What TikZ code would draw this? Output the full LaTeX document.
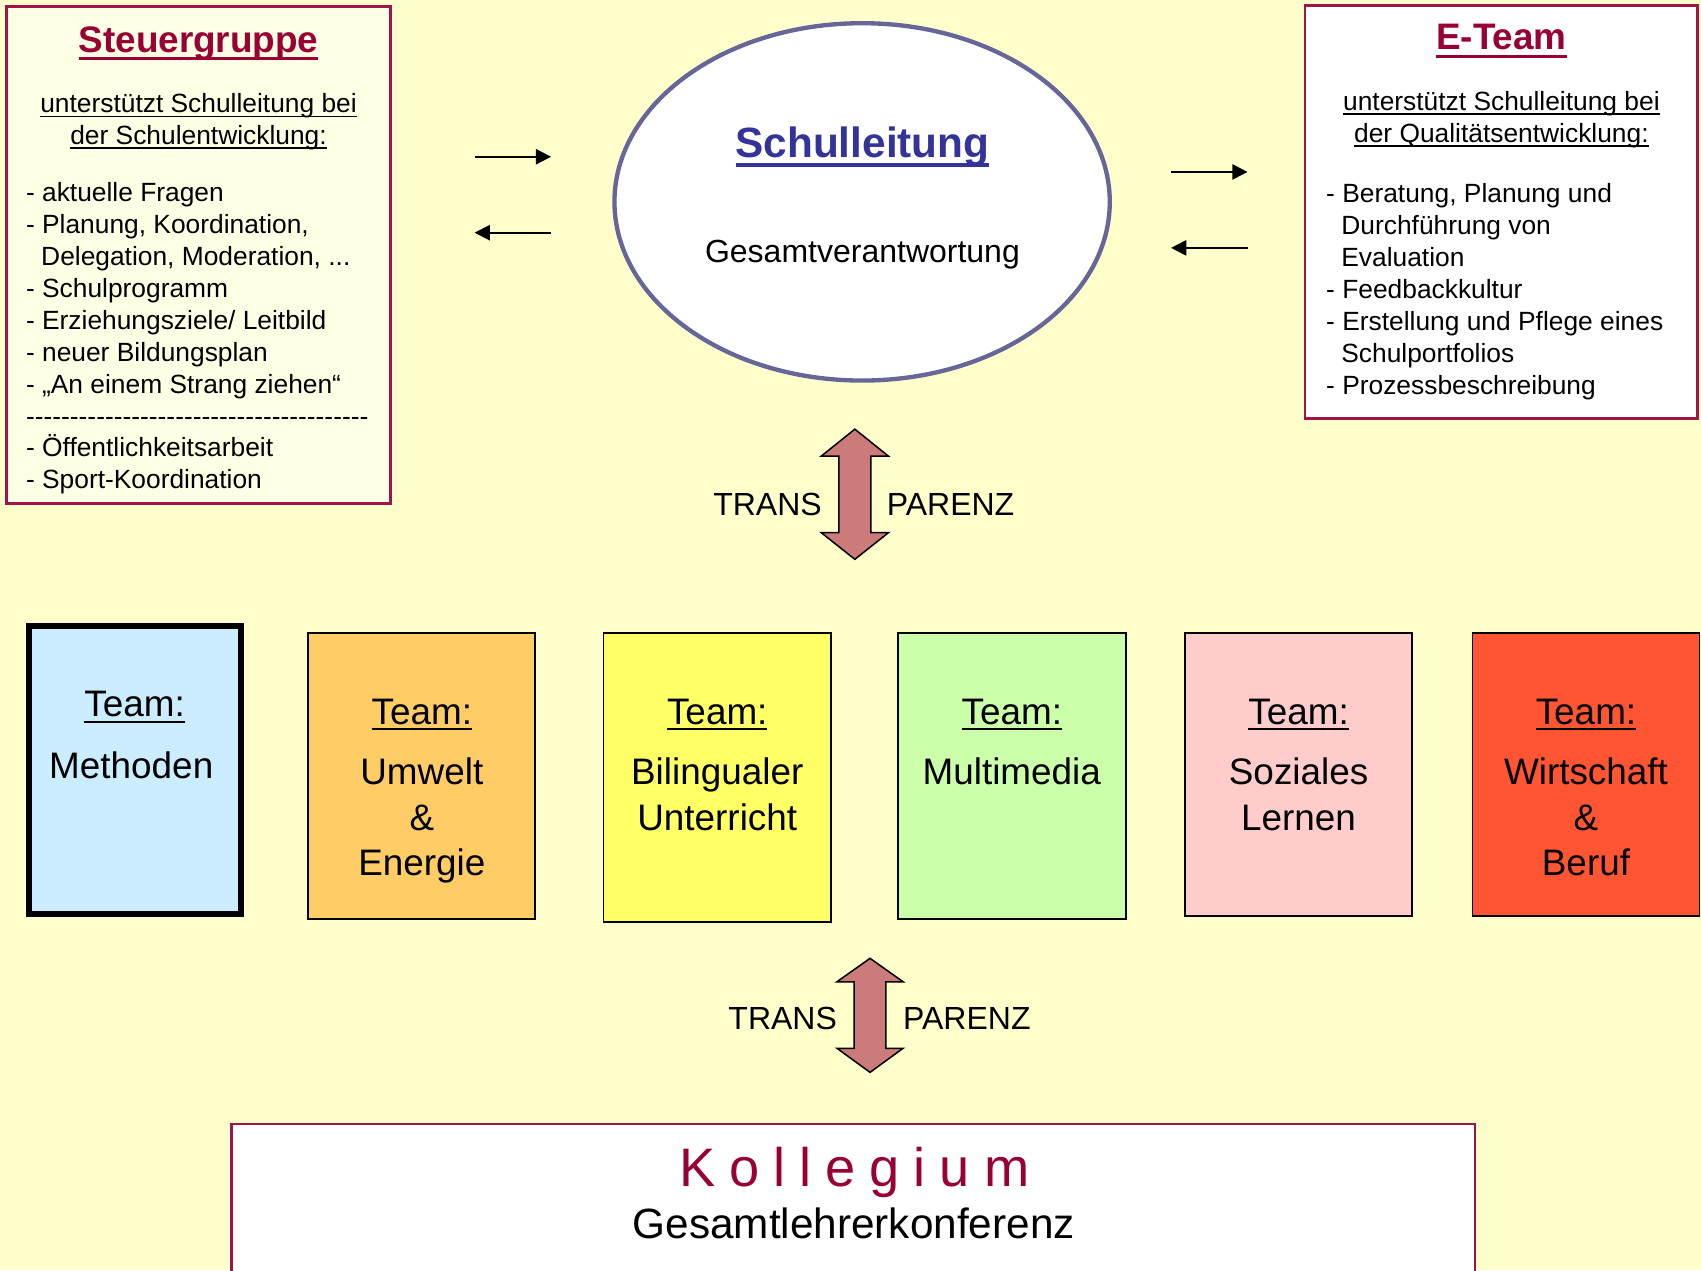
\documentclass[tikz,border=0pt]{standalone}
\usepackage{fontspec}
\setmainfont{Liberation Sans}
\usetikzlibrary{arrows.meta,shapes.geometric}
\definecolor{bgyellow}{HTML}{FFFFCC}
\definecolor{cream}{HTML}{FFFFE6}
\definecolor{wine}{HTML}{990033}
\definecolor{boxred}{HTML}{A0144A}
\definecolor{ellblue}{HTML}{666699}
\definecolor{navy}{HTML}{333399}
\definecolor{rose}{HTML}{CC7B7B}
\definecolor{tblue}{HTML}{CCECFF}
\definecolor{torange}{HTML}{FFCC66}
\definecolor{tyellow}{HTML}{FFFF66}
\definecolor{tgreen}{HTML}{CCFFAA}
\definecolor{tpink}{HTML}{FFCCCC}
\definecolor{tred}{HTML}{FF5533}
\newcommand\ulr[1]{{\setbox0\hbox{#1}\rlap{\rule[-0.17em]{\wd0}{0.065em}}\box0}}
\newcommand\ulb[1]{{\setbox0\hbox{#1}\rlap{\rule[-0.22em]{\wd0}{0.09em}}\box0}}
\newcommand\dd{-\kern0pt}
\newcommand\ddx{\dd\dd\dd\dd\dd\dd\dd\dd\dd\dd}
\newcommand\ind{\hspace*{7pt}}
\begin{document}
\begin{tikzpicture}[x=0.5pt,y=-0.5pt,
  every node/.style={inner sep=0pt, outer sep=0pt},
  infobox/.style={draw=boxred, line width=1.2pt, rectangle},
  teambox/.style={draw=black, line width=0.8pt, rectangle},
  thinarrow/.style={-{Triangle[length=7pt,width=7pt]}, line width=0.9pt},
  blockarrow/.style={fill=rose, draw=black, line width=0.7pt, line join=miter},
  titlefont/.style={font=\bfseries\fontsize{17}{20}\selectfont, text=wine},
  subfont/.style={font=\fontsize{12.15}{14.5}\selectfont},
  listfont/.style={font=\fontsize{12.15}{14.7}\selectfont},
  midfont/.style={font=\fontsize{14.75}{17}\selectfont},
  teamfont/.style={font=\fontsize{17}{20.8}\selectfont}]
\useasboundingbox (0,0) rectangle (1568,1171);
\fill[bgyellow] (0,0) rectangle (1568,1171);

% Steuergruppe
\node[infobox, fill=cream, minimum width=177pt, minimum height=229pt] (sg) at (183,235) {};
\node[titlefont, anchor=base] (sgt) at (183,48) {\ulb{Steuergruppe}};
\node[subfont, anchor=base] (sgs) at (183,104) {\begin{tabular}[t]{@{}c@{}}\ulr{unterstützt Schulleitung bei}\\\ulr{der Schulentwicklung:}\end{tabular}};
\node[listfont, anchor=base west] (sgl) at (24,186) {\begin{tabular}[t]{@{}l@{}}
- aktuelle Fragen\\
- Planung, Koordination,\\
\ind Delegation, Moderation, ...\\
- Schulprogramm\\
- Erziehungsziele/ Leitbild\\
- neuer Bildungsplan\\
- „An einem Strang ziehen“\\
\ddx\ddx\ddx\dd\dd\dd\dd\dd\dd\dd\dd\dd\\
- Öffentlichkeitsarbeit\\
- Sport-Koordination
\end{tabular}};

% E-Team
\node[infobox, fill=white, minimum width=181pt, minimum height=190.5pt] (et) at (1384,195.5) {};
\node[titlefont, anchor=base] (ett) at (1384,46) {\ulb{E-Team}};
\node[subfont, anchor=base] (ets) at (1384,102) {\begin{tabular}[t]{@{}c@{}}\ulr{unterstützt Schulleitung bei}\\\ulr{der Qualitätsentwicklung:}\end{tabular}};
\node[listfont, anchor=base west] (etl) at (1222.5,187) {\begin{tabular}[t]{@{}l@{}}
- Beratung, Planung und\\
\ind Durchführung von\\
\ind Evaluation\\
- Feedbackkultur\\
- Erstellung und Pflege eines\\
\ind Schulportfolios\\
- Prozessbeschreibung
\end{tabular}};

% Schulleitung
\node[ellipse, draw=ellblue, line width=2pt, fill=white, minimum width=228.3pt, minimum height=164.7pt] (sl) at (794.7,186.1) {};
\node[anchor=base, text=navy, font=\bfseries\fontsize{19.5}{23}\selectfont] (slt) at (795,145) {\ulb{Schulleitung}};
\node[midfont, anchor=base] (slg) at (795,242) {Gesamtverantwortung};

% thin arrows
\coordinate (a1s) at (437.5,144.5); \coordinate (a1e) at (508,144.5);
\coordinate (a2s) at (508,214.5); \coordinate (a2e) at (437.5,214.5);
\coordinate (a3s) at (1079.5,158.5); \coordinate (a3e) at (1150,158.5);
\coordinate (a4s) at (1150,228.5); \coordinate (a4e) at (1079.5,228.5);
\draw[thinarrow] (a1s) -- (a1e);
\draw[thinarrow] (a2s) -- (a2e);
\draw[thinarrow] (a3s) -- (a3e);
\draw[thinarrow] (a4s) -- (a4e);

% transparency arrow 1
\draw[blockarrow] (788,395.6) -- (819,420.5) -- (802.8,420.5) -- (802.8,491) -- (819,491) -- (788,515.6) -- (757,491) -- (773.2,491) -- (773.2,420.5) -- (757,420.5) -- cycle;
\node[midfont, anchor=base east] (tr1) at (757.5,475) {TRANS};
\node[midfont, anchor=base west] (pa1) at (817.5,475) {PARENZ};

% teams
\node[teambox, line width=2.8pt, fill=tblue, minimum width=97.4pt, minimum height=132.4pt] (t1) at (124.4,709.8) {};
\node[teambox, fill=torange, minimum width=104.65pt, minimum height=131.95pt] (t2) at (388.85,715.15) {};
\node[teambox, fill=tyellow, minimum width=104.95pt, minimum height=133.2pt] (t3) at (661.15,716.4) {};
\node[teambox, fill=tgreen, minimum width=105.05pt, minimum height=131.95pt] (t4) at (932.65,715.15) {};
\node[teambox, fill=tpink, minimum width=104.85pt, minimum height=130.6pt] (t5) at (1197.05,713.8) {};
\node[teambox, fill=tred, minimum width=104.55pt, minimum height=130.6pt] (t6) at (1461.95,713.8) {};

\node[teamfont, anchor=base] (t1h) at (124,660.6) {\ulr{Team:}};
\node[teamfont, anchor=base] (t1b) at (121,717.5) {Methoden};
\node[teamfont, anchor=base] (t2h) at (388.85,667.4) {\ulr{Team:}};
\node[teamfont, anchor=base] (t2b) at (388.85,723.6) {\begin{tabular}[t]{@{}c@{}}Umwelt\\\&\\Energie\end{tabular}};
\node[teamfont, anchor=base] (t3h) at (661.15,667.4) {\ulr{Team:}};
\node[teamfont, anchor=base] (t3b) at (661.15,723.6) {\begin{tabular}[t]{@{}c@{}}Bilingualer\\Unterricht\end{tabular}};
\node[teamfont, anchor=base] (t4h) at (932.65,667.4) {\ulr{Team:}};
\node[teamfont, anchor=base] (t4b) at (932.65,723.6) {Multimedia};
\node[teamfont, anchor=base] (t5h) at (1197.05,667.4) {\ulr{Team:}};
\node[teamfont, anchor=base] (t5b) at (1197.05,723.6) {\begin{tabular}[t]{@{}c@{}}Soziales\\Lernen\end{tabular}};
\node[teamfont, anchor=base] (t6h) at (1461.95,667.4) {\ulr{Team:}};
\node[teamfont, anchor=base] (t6b) at (1461.95,723.6) {\begin{tabular}[t]{@{}c@{}}Wirtschaft\\\&\\Beruf\end{tabular}};

% transparency arrow 2
\draw[blockarrow] (802,883.4) -- (832.5,905) -- (816.6,905) -- (816.6,966.3) -- (832.5,966.3) -- (802,988.5) -- (771.5,966.3) -- (787.4,966.3) -- (787.4,905) -- (771.5,905) -- cycle;
\node[midfont, anchor=base east] (tr2) at (771.5,949) {TRANS};
\node[midfont, anchor=base west] (pa2) at (832.5,949) {PARENZ};

% Kollegium
\node[infobox, fill=white, minimum width=573pt, minimum height=74.5pt] (ko) at (786.5,1110.5) {};
\node[anchor=base, text=wine, font=\fontsize{25}{30}\selectfont] (kot) at (787.4,1094) {K\kern6.45pt o\kern6.45pt l\kern6.45pt l\kern6.45pt e\kern6.45pt g\kern6.45pt i\kern6.45pt u\kern6.45pt m};
\node[anchor=base, font=\fontsize{19.5}{23}\selectfont] (kos) at (787,1141.5) {Gesamtlehrerkonferenz};
\end{tikzpicture}
\end{document}
